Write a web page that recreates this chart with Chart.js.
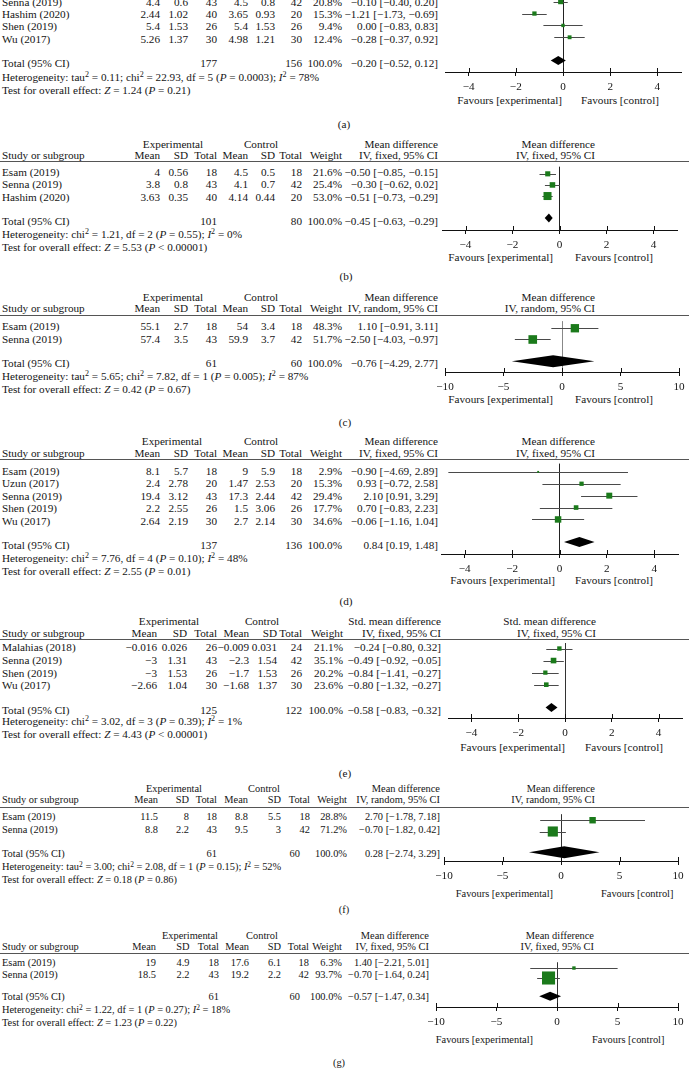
<!DOCTYPE html>
<html><head><meta charset="utf-8">
<script src="https://cdn.jsdelivr.net/npm/chart.js@4.4.1/dist/chart.umd.min.js"></script>
<style>
html,body{margin:0;padding:0;background:#fff;}
body{width:689px;height:1070px;position:relative;overflow:hidden;font-family:"Liberation Serif","Times New Roman",serif;font-size:11.2px;color:#151515;}
.t{position:absolute;white-space:nowrap;line-height:12px;height:12px;}
.r{transform:translateX(-100%);}
.c{transform:translateX(-50%);}
.sup{font-size:0.72em;vertical-align:0.45em;line-height:0;}
.hl{position:absolute;height:1px;background:#555;}
.plot{position:absolute;}
</style></head><body>
<script>
// ---------------- DATA ----------------
const ticksNarrow = [-4, -2, 0, 2, 4];
const ticksWide = [-10, -5, 0, 5, 10];
const S = '<span class="sup">2</span>';

// (a)
const studiesA = ['Senna (2019)', 'Hashim (2020)', 'Shen (2019)', 'Wu (2017)'];
const tableA = [
  ['4.4', '0.6', '43', '4.5', '0.8', '42', '20.8%', '−0.10 [−0.40, 0.20]'],
  ['2.44', '1.02', '40', '3.65', '0.93', '20', '15.3%', '−1.21 [−1.73, −0.69]'],
  ['5.4', '1.53', '26', '5.4', '1.53', '26', '9.4%', '0.00 [−0.83, 0.83]'],
  ['5.26', '1.37', '30', '4.98', '1.21', '30', '12.4%', '−0.28 [−0.37, 0.92]']
];
const estA = [-0.10, -1.21, 0.00, 0.28];
const loA = [-0.40, -1.73, -0.83, -0.37];
const hiA = [0.20, -0.69, 0.83, 0.92];
const weightA = [20.8, 15.3, 9.4, 12.4];
const totalA = [-0.20, -0.52, 0.12];
const totalRowA = ['177', '156', '100.0%', '−0.20 [−0.52, 0.12]'];
const hetA = `Heterogeneity: tau${S} = 0.11; chi${S} = 22.93, df = 5 (<i>P</i> = 0.0003); <i>I</i>${S} = 78%`;
const testA = 'Test for overall effect: <i>Z</i> = 1.24 (<i>P</i> = 0.21)';

// (b)
const studiesB = ['Esam (2019)', 'Senna (2019)', 'Hashim (2020)'];
const tableB = [
  ['4', '0.56', '18', '4.5', '0.5', '18', '21.6%', '−0.50 [−0.85, −0.15]'],
  ['3.8', '0.8', '43', '4.1', '0.7', '42', '25.4%', '−0.30 [−0.62, 0.02]'],
  ['3.63', '0.35', '40', '4.14', '0.44', '20', '53.0%', '−0.51 [−0.73, −0.29]']
];
const estB = [-0.50, -0.30, -0.51];
const loB = [-0.85, -0.62, -0.73];
const hiB = [-0.15, 0.02, -0.29];
const weightB = [21.6, 25.4, 53.0];
const totalB = [-0.45, -0.63, -0.29];
const totalRowB = ['101', '80', '100.0%', '−0.45 [−0.63, −0.29]'];
const hetB = `Heterogeneity: chi${S} = 1.21, df = 2 (<i>P</i> = 0.55); <i>I</i>${S} = 0%`;
const testB = 'Test for overall effect: <i>Z</i> = 5.53 (<i>P</i> &lt; 0.00001)';

// (c)
const studiesC = ['Esam (2019)', 'Senna (2019)'];
const tableC = [
  ['55.1', '2.7', '18', '54', '3.4', '18', '48.3%', '1.10 [−0.91, 3.11]'],
  ['57.4', '3.5', '43', '59.9', '3.7', '42', '51.7%', '−2.50 [−4.03, −0.97]']
];
const estC = [1.10, -2.50];
const loC = [-0.91, -4.03];
const hiC = [3.11, -0.97];
const weightC = [48.3, 51.7];
const totalC = [-0.76, -4.29, 2.77];
const totalRowC = ['61', '60', '100.0%', '−0.76 [−4.29, 2.77]'];
const hetC = `Heterogeneity: tau${S} = 5.65; chi${S} = 7.82, df = 1 (<i>P</i> = 0.005); <i>I</i>${S} = 87%`;
const testC = 'Test for overall effect: <i>Z</i> = 0.42 (<i>P</i> = 0.67)';

// (d)
const studiesD = ['Esam (2019)', 'Uzun (2017)', 'Senna (2019)', 'Shen (2019)', 'Wu (2017)'];
const tableD = [
  ['8.1', '5.7', '18', '9', '5.9', '18', '2.9%', '−0.90 [−4.69, 2.89]'],
  ['2.4', '2.78', '20', '1.47', '2.53', '20', '15.3%', '0.93 [−0.72, 2.58]'],
  ['19.4', '3.12', '43', '17.3', '2.44', '42', '29.4%', '2.10 [0.91, 3.29]'],
  ['2.2', '2.55', '26', '1.5', '3.06', '26', '17.7%', '0.70 [−0.83, 2.23]'],
  ['2.64', '2.19', '30', '2.7', '2.14', '30', '34.6%', '−0.06 [−1.16, 1.04]']
];
const estD = [-0.90, 0.93, 2.10, 0.70, -0.06];
const loD = [-4.69, -0.72, 0.91, -0.83, -1.16];
const hiD = [2.89, 2.58, 3.29, 2.23, 1.04];
const weightD = [2.9, 15.3, 29.4, 17.7, 34.6];
const totalD = [0.84, 0.19, 1.48];
const totalRowD = ['137', '136', '100.0%', '0.84 [0.19, 1.48]'];
const hetD = `Heterogeneity: chi${S} = 7.76, df = 4 (<i>P</i> = 0.10); <i>I</i>${S} = 48%`;
const testD = 'Test for overall effect: <i>Z</i> = 2.55 (<i>P</i> = 0.01)';

// (e)
const studiesE = ['Malahias (2018)', 'Senna (2019)', 'Shen (2019)', 'Wu (2017)'];
const tableE = [
  ['−0.016', '0.026', '26', '−0.009', '0.031', '24', '21.1%', '−0.24 [−0.80, 0.32]'],
  ['−3', '1.31', '43', '−2.3', '1.54', '42', '35.1%', '−0.49 [−0.92, −0.05]'],
  ['−3', '1.53', '26', '−1.7', '1.53', '26', '20.2%', '−0.84 [−1.41, −0.27]'],
  ['−2.66', '1.04', '30', '−1.68', '1.37', '30', '23.6%', '−0.80 [−1.32, −0.27]']
];
const estE = [-0.24, -0.49, -0.84, -0.80];
const loE = [-0.80, -0.92, -1.41, -1.32];
const hiE = [0.32, -0.05, -0.27, -0.27];
const weightE = [21.1, 35.1, 20.2, 23.6];
const totalE = [-0.58, -0.83, -0.32];
const totalRowE = ['125', '122', '100.0%', '−0.58 [−0.83, −0.32]'];
const hetE = `Heterogeneity: chi${S} = 3.02, df = 3 (<i>P</i> = 0.39); <i>I</i>${S} = 1%`;
const testE = 'Test for overall effect: <i>Z</i> = 4.43 (<i>P</i> &lt; 0.00001)';

// (f)
const studiesF = ['Esam (2019)', 'Senna (2019)'];
const tableF = [
  ['11.5', '8', '18', '8.8', '5.5', '18', '28.8%', '2.70 [−1.78, 7.18]'],
  ['8.8', '2.2', '43', '9.5', '3', '42', '71.2%', '−0.70 [−1.82, 0.42]']
];
const estF = [2.70, -0.70];
const loF = [-1.78, -1.82];
const hiF = [7.18, 0.42];
const weightF = [28.8, 71.2];
const totalF = [0.28, -2.74, 3.29];
const totalRowF = ['61', '60', '100.0%', '0.28 [−2.74, 3.29]'];
const hetF = `Heterogeneity: tau${S} = 3.00; chi${S} = 2.08, df = 1 (<i>P</i> = 0.15); <i>I</i>${S} = 52%`;
const testF = 'Test for overall effect: <i>Z</i> = 0.18 (<i>P</i> = 0.86)';

// (g)
const studiesG = ['Esam (2019)', 'Senna (2019)'];
const tableG = [
  ['19', '4.9', '18', '17.6', '6.1', '18', '6.3%', '1.40 [−2.21, 5.01]'],
  ['18.5', '2.2', '43', '19.2', '2.2', '42', '93.7%', '−0.70 [−1.64, 0.24]']
];
const estG = [1.40, -0.70];
const loG = [-2.21, -1.64];
const hiG = [5.01, 0.24];
const weightG = [6.3, 93.7];
const totalG = [-0.57, -1.47, 0.34];
const totalRowG = ['61', '60', '100.0%', '−0.57 [−1.47, 0.34]'];
const hetG = `Heterogeneity: chi${S} = 1.22, df = 1 (<i>P</i> = 0.27); <i>I</i>${S} = 18%`;
const testG = 'Test for overall effect: <i>Z</i> = 1.23 (<i>P</i> = 0.22)';

const colHeads = ['Mean', 'SD', 'Total', 'Mean', 'SD', 'Total', 'Weight'];

// ---------------- DRAWING ----------------
const GREEN = '#1b7a1b';
const FONT = 'Liberation Serif';
const FSIZE = 11.2;
let curSize = FSIZE;
const fmtTick = v => (v < 0 ? '\u2212' + Math.abs(v) : String(v));

function T(x, y, html, align) {
  const d = document.createElement('div');
  d.className = 't' + (align === 'r' ? ' r' : align === 'c' ? ' c' : '');
  d.style.left = x + 'px';
  d.style.top = (y - 6) + 'px';
  d.style.fontSize = curSize + 'px';
  d.innerHTML = html;
  document.body.appendChild(d);
}
function HL(y, x0, x1) {
  const d = document.createElement('div');
  d.className = 'hl';
  d.style.cssText = `left:${x0}px;top:${Math.round(y)}px;width:${x1 - x0}px;`;
  document.body.appendChild(d);
}

function marksPlugin(D, L, totRow) {
  return {
    id: 'forestMarks',
    beforeDatasetsDraw(chart) {
      const { ctx, scales: { x, y } } = chart;
      ctx.save();
      ctx.strokeStyle = '#4a4a4a';
      ctx.lineWidth = 1;
      D.lo.forEach((lo, i) => {
        const py = Math.round(y.getPixelForValue(i)) + 0.5;
        ctx.beginPath();
        ctx.moveTo(x.getPixelForValue(lo), py);
        ctx.lineTo(x.getPixelForValue(D.hi[i]), py);
        ctx.stroke();
      });
      ctx.restore();
    },
    afterDatasetsDraw(chart) {
      const { ctx, scales: { x, y } } = chart;
      const [est, lo, hi] = D.total;
      const py = y.getPixelForValue(totRow);
      ctx.save();
      ctx.fillStyle = '#000';
      ctx.beginPath();
      ctx.moveTo(x.getPixelForValue(lo), py);
      ctx.lineTo(x.getPixelForValue(est), py - L.dh);
      ctx.lineTo(x.getPixelForValue(hi), py);
      ctx.lineTo(x.getPixelForValue(est), py + L.dh);
      ctx.closePath();
      ctx.fill();
      const ab = chart.chartArea.bottom;
      ctx.strokeStyle = '#111';
      ctx.lineWidth = 1;
      x.ticks.forEach(t => {
        const px = Math.round(x.getPixelForValue(t.value)) + 0.5;
        ctx.beginPath();
        ctx.moveTo(px, ab - 4);
        ctx.lineTo(px, ab);
        ctx.stroke();
      });
      ctx.restore();
    }
  };
}

function plot(L, D) {
  const padX = 14, axisH = 30;
  const left = Math.round(L.pxMin) - padX;
  const width = Math.round(L.pxMax - L.pxMin) + 2 * padX;
  const top = Math.round(L.topY);
  const axisPage = Math.round(L.axisY);
  const height = axisPage - top + axisH;
  const wrap = document.createElement('div');
  wrap.className = 'plot';
  wrap.style.cssText = `left:${left}px;top:${top}px;width:${width}px;height:${height}px;`;
  const cv = document.createElement('canvas');
  cv.width = width; cv.height = height;
  cv.style.width = width + 'px'; cv.style.height = height + 'px';
  wrap.appendChild(cv);
  document.body.appendChild(wrap);

  const row0 = L.y0 + L.shift;
  const yMin = (top - row0) / L.rowH;
  const yMax = (axisPage - row0) / L.rowH;
  const totRow = (L.totY - L.y0) / L.rowH;
  const lim = D.ticks === ticksWide ? 10 : 5;

  new Chart(cv, {
    type: 'scatter',
    data: {
      datasets: [{
        data: D.est.map((v, i) => ({ x: v, y: i })),
        pointStyle: 'rect',
        pointRadius: D.w.map(w => L.k * Math.sqrt(w) / Math.SQRT2),
        pointBackgroundColor: GREEN,
        pointBorderColor: GREEN,
        pointBorderWidth: 0,
        showLine: false,
        clip: false
      }]
    },
    options: {
      responsive: false,
      animation: false,
      devicePixelRatio: 1,
      events: [],
      layout: { padding: { left: padX, right: padX, top: 0, bottom: 0 } },
      plugins: { legend: { display: false }, tooltip: { enabled: false } },
      scales: {
        x: {
          type: 'linear', min: -lim, max: lim, position: 'bottom',
          afterFit: s => { s.height = axisH; },
          afterBuildTicks: s => { s.ticks = D.ticks.map(v => ({ value: v })); },
          grid: {
            drawOnChartArea: true, drawTicks: true, tickLength: 4, lineWidth: 1,
            color: c => (c.tick && c.tick.value === 0) ? L.zero : 'rgba(0,0,0,0)',
            tickColor: '#111'
          },
          border: { display: true, color: '#111', width: 1 },
          ticks: {
            autoSkip: false, maxRotation: 0, padding: 4, color: '#151515',
            font: { family: FONT, size: FSIZE },
            callback: v => fmtTick(v)
          }
        },
        y: { type: 'linear', display: false, reverse: true, min: yMin, max: yMax }
      }
    },
    plugins: [marksPlugin(D, L, totRow)]
  });
}

function panel(L, D) {
  curSize = L.fs || FSIZE;
  if (L.h1 != null) {
    T(L.expC, L.h1, 'Experimental', 'c');
    T(L.ctlC, L.h1, 'Control', 'c');
    T(L.ciR, L.h1, D.effHead, 'r');
    T(L.plotR, L.h1, D.effHead, 'r');
    T(2, L.h2, 'Study or subgroup');
    colHeads.forEach((h, j) => T(L.cols[j], L.h2, h, 'r'));
    T(L.ciR, L.h2, D.method, 'r');
    T(L.plotR, L.h2, D.method, 'r');
    HL(L.line, 0, 689);
  }
  D.studies.forEach((s, i) => {
    const y = L.y0 + i * L.rowH;
    T(2, y, s);
    D.table[i].forEach((v, j) => {
      if (j < 7) T(L.cols[j], y, v, 'r'); else T(L.ciR, y, v, 'r');
    });
  });
  T(2, L.totY, 'Total (95% CI)');
  T(L.cols[2], L.totY, D.totalRow[0], 'r');
  T(L.totN2 || L.cols[5], L.totY, D.totalRow[1], 'r');
  T(L.cols[6], L.totY, D.totalRow[2], 'r');
  T(L.ciR, L.totY, D.totalRow[3], 'r');
  T(2, L.hetY, D.het);
  T(2, L.testY, D.test);
  T(L.favE, L.favY, 'Favours [experimental]', 'r');
  T(L.favC, L.favY, 'Favours [control]');
  T(L.labX, L.labY, D.label, 'c');
  plot(L, D);
}

const COLS = [160, 188, 217, 248, 275, 302, 342];

panel(
  { topY: -20, y0: 1.5, rowH: 12.4, totY: 63, hetY: 76.5, testY: 89.5, axisY: 72, favY: 100, labY: 124, labX: 344,
    pxMin: 444.7, pxMax: 680.7, cols: COLS, ciR: 438, favE: 562, favC: 581, shift: -3, dh: 4.5, k: 1.1, zero: '#222' },
  { studies: studiesA, table: tableA, est: estA, lo: loA, hi: hiA, w: weightA, total: totalA, totalRow: totalRowA,
    het: hetA, test: testA, ticks: ticksNarrow, label: '(a)' });

panel(
  { h1: 144, h2: 155, line: 160.5, topY: 161, y0: 172.3, rowH: 12.1, totY: 220.5, hetY: 233.5, testY: 247,
    axisY: 230, favY: 257, labY: 276, labX: 346, pxMin: 442, pxMax: 676.6, cols: COLS, ciR: 438,
    expC: 173, ctlC: 261, plotR: 595, favE: 553, favC: 575, shift: -3.5, dh: 4.5, k: 1.1, zero: '#222' },
  { studies: studiesB, table: tableB, est: estB, lo: loB, hi: hiB, w: weightB, total: totalB, totalRow: totalRowB,
    het: hetB, test: testB, ticks: ticksNarrow, label: '(b)', effHead: 'Mean difference', method: 'IV, fixed, 95% CI' });

panel(
  { h1: 297, h2: 308.3, line: 314.7, topY: 315, y0: 326, rowH: 12.6, totY: 363, hetY: 376, testY: 389.3,
    axisY: 371.7, favY: 399, labY: 421.7, labX: 345, pxMin: 445, pxMax: 679.3, cols: COLS, ciR: 438,
    expC: 173, ctlC: 261, plotR: 595, favE: 553, favC: 575, shift: -3, dh: 6, k: 1.2, zero: '#888' },
  { studies: studiesC, table: tableC, est: estC, lo: loC, hi: hiC, w: weightC, total: totalC, totalRow: totalRowC,
    het: hetC, test: testC, ticks: ticksWide, label: '(c)', effHead: 'Mean difference', method: 'IV, random, 95% CI' });

panel(
  { h1: 441, h2: 452.7, line: 459, topY: 459, y0: 470.7, rowH: 12.5, totY: 544.5, hetY: 557.7, testY: 570.7,
    axisY: 554.3, favY: 580, labY: 600.7, labX: 346, pxMin: 441, pxMax: 678, cols: COLS, ciR: 438,
    expC: 172, ctlC: 261, plotR: 595, favE: 555, favC: 575, shift: -3, dh: 5, k: 1.1, zero: '#222' },
  { studies: studiesD, table: tableD, est: estD, lo: loD, hi: hiD, w: weightD, total: totalD, totalRow: totalRowD,
    het: hetD, test: testD, ticks: ticksNarrow, label: '(d)', effHead: 'Mean difference', method: 'IV, fixed, 95% CI' });

panel(
  { h1: 620.7, h2: 633, line: 639, topY: 639, y0: 647.3, rowH: 12.7, totY: 709.5, hetY: 721, testY: 733.5,
    axisY: 717.7, favY: 747.3, labY: 772.7, labX: 345, pxMin: 447.5, pxMax: 681.5,
    cols: [157, 187, 217, 249, 277, 302, 343], ciR: 441,
    expC: 169, ctlC: 262, plotR: 596, favE: 565, favC: 585, shift: -2.5, dh: 4.5, k: 0.95, zero: '#333' },
  { studies: studiesE, table: tableE, est: estE, lo: loE, hi: hiE, w: weightE, total: totalE, totalRow: totalRowE,
    het: hetE, test: testE, ticks: ticksNarrow, label: '(e)', effHead: 'Std. mean difference', method: 'IV, fixed, 95% CI' });

panel(
  { h1: 789, h2: 800, line: 806.5, topY: 807, y0: 817, rowH: 13, totY: 854, hetY: 867, testY: 880,
    axisY: 861, favY: 894, labY: 910, labX: 344, pxMin: 444, pxMax: 678, fs: 10.4,
    cols: [158, 189, 217, 248, 281, 310, 347], totN2: 300, ciR: 440,
    expC: 174, ctlC: 264, plotR: 595, favE: 553, favC: 601, shift: -3, dh: 6, k: 1.2, zero: '#333' },
  { studies: studiesF, table: tableF, est: estF, lo: loF, hi: hiF, w: weightF, total: totalF, totalRow: totalRowF,
    het: hetF, test: testF, ticks: ticksWide, label: '(f)', effHead: 'Mean difference', method: 'IV, random, 95% CI' });

panel(
  { h1: 936, h2: 947, line: 953, topY: 953, y0: 963, rowH: 12, totY: 997, hetY: 1010, testY: 1023,
    axisY: 1007, favY: 1040, labY: 1063, labX: 339, pxMin: 436, pxMax: 678, fs: 10.4,
    cols: [156, 189.5, 219, 249, 281, 309, 342], totN2: 300, ciR: 429,
    expC: 190, ctlC: 262, plotR: 594, favE: 533, favC: 592, shift: -3, dh: 4.5, k: 1.35, zero: '#333' },
  { studies: studiesG, table: tableG, est: estG, lo: loG, hi: hiG, w: weightG, total: totalG, totalRow: totalRowG,
    het: hetG, test: testG, ticks: ticksWide, label: '(g)', effHead: 'Mean difference', method: 'IV, fixed, 95% CI' });
</script>
</body></html>
